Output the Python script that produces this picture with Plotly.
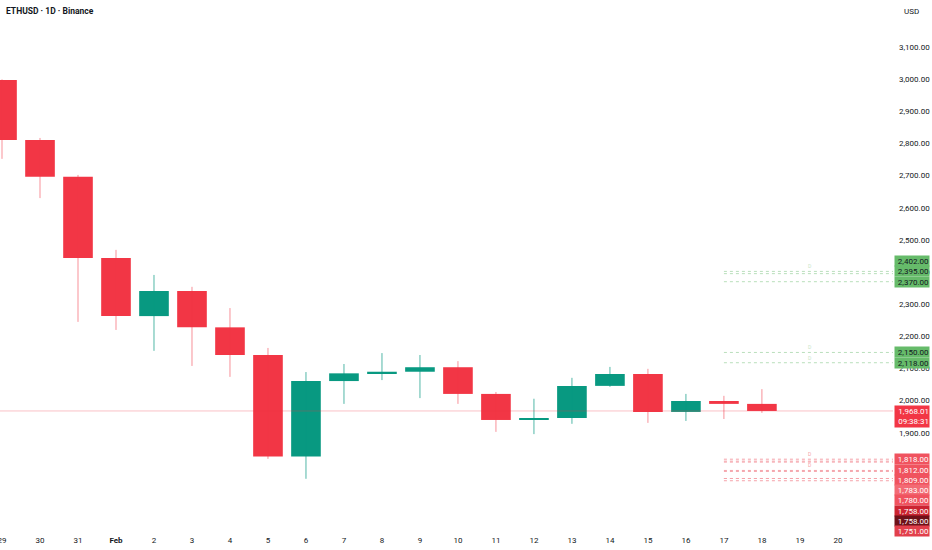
import datetime as dt
import plotly.graph_objects as go

# daily candles, ETHUSD on Binance
dates = ["2026-01-29", "2026-01-30", "2026-01-31", "2026-02-01", "2026-02-02",
         "2026-02-03", "2026-02-04", "2026-02-05", "2026-02-06", "2026-02-07",
         "2026-02-08", "2026-02-09", "2026-02-10", "2026-02-11", "2026-02-12",
         "2026-02-13", "2026-02-14", "2026-02-15", "2026-02-16", "2026-02-17",
         "2026-02-18"]
opens = [2997, 2811, 2696, 2444, 2263, 2341, 2228, 2142, 1826, 2061, 2085,
         2090, 2104, 2021, 1940, 1946, 2046, 2083, 1965, 1999, 1990]
highs = [2999, 2817, 2702, 2469, 2391, 2354, 2288, 2164, 2089, 2114, 2148,
         2142, 2123, 2027, 2006, 2071, 2105, 2099, 2021, 2015, 2036]
lows = [2752, 2630, 2245, 2220, 2155, 2108, 2074, 1819, 1757, 1990, 2064,
        2008, 1990, 1903, 1896, 1928, 2043, 1931, 1937, 1943, 1962]
closes = [2811, 2696, 2444, 2263, 2341, 2228, 2142, 1826, 2061, 2085, 2090,
          2104, 2021, 1940, 1946, 2046, 2083, 1965, 1999, 1990, 1968.01]

last_time = "09:38:31"

# time axis labels
tick_dates = ["2026-01-29", "2026-01-30", "2026-01-31", "2026-02-01", "2026-02-02",
              "2026-02-03", "2026-02-04", "2026-02-05", "2026-02-06", "2026-02-07",
              "2026-02-08", "2026-02-09", "2026-02-10", "2026-02-11", "2026-02-12",
              "2026-02-13", "2026-02-14", "2026-02-15", "2026-02-16", "2026-02-17",
              "2026-02-18", "2026-02-19", "2026-02-20"]
tick_labels = ["29", "30", "31", "<b>Feb</b>", "2", "3", "4", "5", "6", "7", "8",
               "9", "10", "11", "12", "13", "14", "15", "16", "17", "18", "19", "20"]

price_ticks = [1900, 2000, 2100, 2200, 2300, 2400, 2500, 2600, 2700, 2800,
               2900, 3000, 3100]

# horizontal levels drawn from Feb 17
level_start = "2026-02-17"
levels_up = [2402, 2395, 2370, 2150, 2118]
levels_down = [1818, 1812, 1809, 1783, 1780, 1758, 1758, 1751]
down_colors = ["#f0535f", "#f0535f", "#f0535f", "#f36a74", "#f0535f",
               "#cc2431", "#6f1119", "#e2404c"]

UP = "#089981"
DOWN = "#f23645"
TXT = "#131722"

Y_MIN, Y_MAX = 1591.6, 3246
PLOT_H = 550 - 18
base = dt.datetime(2026, 1, 29)
x_lo = base - dt.timedelta(days=0.053)
x_hi = base + dt.timedelta(days=23.45)

fig = go.Figure()

# wicks
for want_up, col in [(True, "rgba(8,153,129,0.7)"), (False, "rgba(242,54,69,0.55)")]:
    wx, wy = [], []
    for d, o, h, l, c in zip(dates, opens, highs, lows, closes):
        if (c >= o) == want_up:
            wx += [d, d, None]
            wy += [l, h, None]
    fig.add_trace(go.Scatter(x=wx, y=wy, mode="lines",
                             line=dict(color=col, width=1), hoverinfo="skip"))

# bodies
fig.add_trace(go.Bar(
    x=dates,
    y=[c - o for o, c in zip(opens, closes)],
    base=opens,
    width=0.78 * 86400000,
    marker=dict(color=[UP if c >= o else DOWN for o, c in zip(opens, closes)],
                line=dict(width=0)),
))

shapes = []
annotations = []

# last price line
shapes.append(dict(type="line", xref="paper", x0=0, x1=1, yref="y",
                   y0=closes[-1], y1=closes[-1],
                   line=dict(color="rgba(242,54,69,0.3)", width=1)))

k = PLOT_H / (Y_MAX - Y_MIN)
LBL_H = 10.3


def stack(prices, upward):
    out = []
    prev = None
    for p in prices:
        u = (p - Y_MIN) * k
        if prev is not None:
            u = max(u, prev + LBL_H) if upward else min(u, prev - LBL_H)
        out.append(u - (p - Y_MIN) * k)
        prev = u
    return out


up_sorted = sorted(levels_up)
up_shift = stack(up_sorted, True)
for p, s in zip(up_sorted, up_shift):
    shapes.append(dict(type="line", xref="x", x0=level_start, x1=x_hi,
                       yref="y", y0=p, y1=p,
                       line=dict(color="#b9dfbb", width=1, dash="dot")))
    annotations.append(dict(xref="paper", x=1, xanchor="left", xshift=1,
                            yref="y", y=p, yshift=s, yanchor="middle",
                            text=f"{p:,.2f}", showarrow=False,
                            bgcolor="#66bb6a", width=34, height=10, borderpad=0,
                            align="right",
                            font=dict(size=8, color=TXT, family="Roboto")))
for p in [2402, 2150, 2118]:
    annotations.append(dict(xref="x", x="2026-02-19 06:00", yref="y", y=p,
                            text="D", showarrow=False, yshift=5,
                            font=dict(size=5, color="#c8e6c9")))

down_sorted = sorted(zip(levels_down, down_colors), key=lambda t: -t[0])
down_shift = stack([p for p, _ in down_sorted], False)
for (p, col), s in zip(down_sorted, down_shift):
    shapes.append(dict(type="line", xref="x", x0=level_start, x1=x_hi,
                       yref="y", y0=p, y1=p,
                       line=dict(color="#f5a3aa", width=1, dash="dot")))
    annotations.append(dict(xref="paper", x=1, xanchor="left", xshift=1,
                            yref="y", y=p, yshift=s, yanchor="middle",
                            text=f"{p:,.2f}", showarrow=False,
                            bgcolor=col, width=34, height=10, borderpad=0,
                            align="right",
                            font=dict(size=8, color="white", family="Roboto")))
for p in [1818, 1783]:
    annotations.append(dict(xref="x", x="2026-02-19 06:00", yref="y", y=p,
                            text="D", showarrow=False, yshift=5,
                            font=dict(size=5, color="#f5a3aa")))

# last price label
annotations.append(dict(xref="paper", x=1, xanchor="left", xshift=1,
                        yref="y", y=closes[-1], yanchor="top", yshift=6,
                        text=f"{closes[-1]:,.2f}<br>{last_time}", showarrow=False,
                        bgcolor=DOWN, width=34, height=21, borderpad=0,
                        align="right",
                        font=dict(size=8, color="white", family="Roboto")))

# header and currency
annotations.append(dict(xref="paper", yref="paper", x=0, y=1, xanchor="left",
                        yanchor="top", xshift=4, yshift=-4,
                        text="<b>ETHUSD · 1D · Binance</b>", showarrow=False,
                        font=dict(size=8.5, color=TXT, family="Roboto")))
annotations.append(dict(xref="paper", yref="paper", x=1, y=1, xanchor="left",
                        yanchor="top", xshift=9, yshift=-5,
                        text="USD", showarrow=False,
                        font=dict(size=8, color=TXT, family="Roboto")))

fig.update_layout(
    width=932,
    height=550,
    margin=dict(l=0, r=39, t=0, b=18),
    paper_bgcolor="white",
    plot_bgcolor="white",
    showlegend=False,
    barmode="overlay",
    shapes=shapes,
    annotations=annotations,
    font=dict(family="Roboto", size=8, color=TXT),
)
fig.update_xaxes(type="date", range=[x_lo, x_hi], tickvals=tick_dates,
                 ticktext=tick_labels, showgrid=False, zeroline=False,
                 ticks="", showline=False, fixedrange=True, automargin=False,
                 ticklabeloverflow="allow", ticklabelstandoff=2)
fig.update_yaxes(side="right", range=[Y_MIN, Y_MAX], tickvals=price_ticks,
                 ticktext=[f"{v:,.2f}" for v in price_ticks], showgrid=False,
                 zeroline=False, ticks="", showline=False, fixedrange=True,
                 ticklabelstandoff=5, automargin=False)

# page has a default body margin; drop it so the figure sits at the corner
fig.write_html("out.html", config={"displayModeBar": False},
               post_script="document.body.style.margin='0';")
